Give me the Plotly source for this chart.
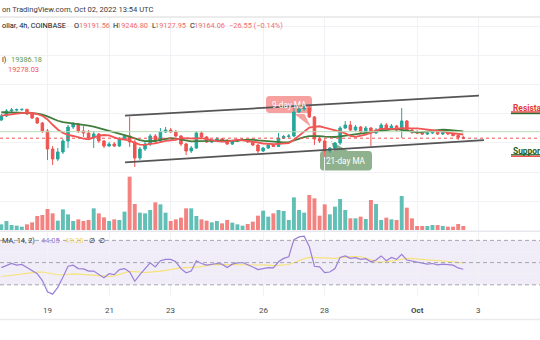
import pandas as pd
import plotly.graph_objects as go

W, H = 540, 340

# ---------------- data (BTC/USD, COINBASE, 4h) ----------------
first_bar = "2022-09-17 12:00"
n_bars = 91
opens = [19786, 19923, 20094, 20128, 20140, 20150, 19991, 19854, 19683, 19410,
         18794, 18452, 18692, 19068, 19547, 19649, 19410, 19341, 19170, 19307,
         19068, 18897, 18965, 18897, 19136, 19239, 19034, 18486, 18794, 18965,
         19239, 19068, 19376, 19444, 19376, 19239, 18965, 18726, 18828, 19341,
         19205, 19034, 19102, 19136, 19068, 18965, 19068, 19102, 19119, 19034,
         18931, 18726, 18828, 18931, 18880, 19170, 19222, 19239, 20060, 20162,
         20196, 19889, 19136, 19068, 18726, 18828, 18999, 19512, 19615, 19444,
         19547, 19376, 19512, 19341, 19444, 19615, 19478, 19581, 19444, 19752,
         19444, 19376, 19341, 19307, 19341, 19376, 19307, 19359, 19307, 19256,
         19191.56]
highs = [19991, 20162, 20196, 20180, 20175, 20170, 20025, 19889, 19718, 19478,
         18897, 18828, 19136, 19615, 19718, 19683, 19581, 19444, 19410, 19341,
         19102, 19034, 19034, 19205, 19307, 19899, 19102, 18863, 19034, 19307,
         19307, 19512, 19547, 19512, 19444, 19273, 18999, 18897, 19410, 19410,
         19239, 19136, 19205, 19170, 19136, 19102, 19136, 19170, 19136, 19068,
         18965, 18863, 18965, 18965, 19341, 19273, 19307, 20196, 20299, 20265,
         20265, 19923, 19205, 19136, 18863, 19034, 19581, 19752, 19752, 19615,
         19581, 19581, 19547, 19512, 19683, 19683, 19649, 19615, 20196, 19786,
         19478, 19444, 19410, 19376, 19410, 19410, 19376, 19390, 19341, 19290,
         19246.80]
lows = [19752, 19889, 20025, 20077, 20094, 19957, 19820, 19649, 19341, 18418,
        18247, 18384, 18623, 18828, 19478, 19341, 19205, 19136, 18828, 18999,
        18828, 18863, 18863, 18863, 19102, 18863, 18179, 18418, 18726, 18897,
        18999, 18999, 19341, 19341, 19205, 18897, 18589, 18657, 18794, 19170,
        18999, 18999, 19034, 19034, 18931, 18931, 19034, 19068, 18999, 18897,
        18657, 18692, 18794, 18863, 18863, 19136, 19170, 19205, 20025, 20094,
        19854, 18931, 18999, 18521, 18657, 18760, 18931, 19478, 19410, 19410,
        19341, 19341, 18897, 19307, 19410, 19444, 19444, 19410, 19170, 19410,
        19307, 19307, 19273, 19273, 19307, 19273, 19273, 19273, 19222, 19102,
        19127.95]
closes = [19923, 20094, 20128, 20140, 20150, 19991, 19854, 19683, 19410, 18794,
          18452, 18692, 19068, 19547, 19649, 19410, 19341, 19170, 19307, 19068,
          18897, 18965, 18897, 19136, 19239, 19034, 18486, 18794, 18965, 19239,
          19068, 19376, 19444, 19376, 19239, 18965, 18726, 18828, 19341, 19205,
          19034, 19102, 19136, 19068, 18965, 19068, 19102, 19119, 19034, 18931,
          18726, 18828, 18931, 18880, 19170, 19222, 19239, 20060, 20162, 20196,
          19889, 19136, 19068, 18726, 18828, 18999, 19512, 19615, 19444, 19547,
          19376, 19512, 19341, 19444, 19615, 19478, 19581, 19444, 19752, 19444,
          19376, 19341, 19307, 19341, 19376, 19307, 19359, 19307, 19256, 19190.61,
          19164.06]
volumes = [850, 1350, 750, 650, 500, 850, 1150, 2100, 2250, 3150,
           2500, 1400, 3100, 2350, 1350, 1600, 1350, 1500, 3250, 2500,
           1900, 1350, 1600, 1500, 2750, 8000, 3900, 2600, 2500, 3000,
           4150, 3850, 2600, 1350, 1600, 1850, 3250, 3250, 2100, 1600,
           1400, 1150, 1350, 1000, 1500, 1100, 850, 650, 900, 1250,
           2150, 2900, 2000, 2500, 3000, 2850, 1500, 4900, 3000, 2600,
           5250, 4750, 2150, 3850, 2350, 3500, 4650, 3000, 1750, 1750,
           2000, 1650, 4500, 3900, 1500, 1850, 1600, 1500, 5100, 3350,
           1750, 600, 600, 600, 750, 750, 600, 500, 500, 900,
           600]
rsi = [45.5, 47.7, 49.2, 47.7, 48.3, 45.5, 42.4, 40.0, 33.8, 23.7,
       21.6, 27.7, 36.9, 46.7, 47.7, 44.6, 44.3, 42.4, 42.4, 39.4,
       36.3, 40.0, 39.1, 43.7, 44.6, 41.5, 33.2, 39.1, 44.6, 49.8,
       46.1, 51.7, 52.9, 52.9, 50.7, 44.6, 40.9, 42.4, 51.7, 49.2,
       47.7, 48.6, 49.2, 48.6, 45.5, 48.6, 49.8, 50.1, 48.3, 46.1,
       43.7, 44.6, 45.5, 45.2, 50.7, 53.8, 55.3, 70.7, 73.1, 73.8,
       64.5, 46.7, 46.1, 40.9, 41.5, 44.6, 54.7, 56.0, 53.8, 54.4,
       52.9, 53.5, 50.7, 52.3, 56.0, 51.7, 54.7, 52.9, 57.5, 52.3,
       51.3, 50.7, 49.2, 48.6, 49.2, 48.0, 48.6, 48.3, 47.7, 45.2,
       44.05]
# warm-up history (bars before the visible window) for the moving averages
prior_closes = [20180, 20150, 20090, 20120, 20210, 20160, 20100, 20130, 20080, 20150,
                20110, 20128, 19980, 19900, 19870, 19920, 19960, 19950, 19990, 19954]
prior_rsi = [40, 38, 41, 37, 38.8, 36, 34, 33, 35, 36, 37, 36.7, 37]

channel_upper_t = ["2022-09-21 12:24", "2022-10-03 00:13"]
channel_upper_p = [19933, 20617]
channel_lower_t = ["2022-09-21 12:24", "2022-10-03 04:07"]
channel_lower_p = [18340, 19100]

day_ticks = ["2022-09-19", "2022-09-21", "2022-09-23", "2022-09-26",
             "2022-09-28", "2022-10-01", "2022-10-03"]
day_labels = ["19", "21", "23", "26", "28", "Oct", "3"]
price_grid = [17000, 18000, 19000, 20000, 21000, 22000, 23000]
rsi_grid = [20, 40, 60]
rsi_levels = [70, 50, 30]
ma21_last, ma9_last = 19386.18, 19278.03
rsi_last, rsi_ma_last = 44.05, 49.20

# ---------------- derived ----------------
times = pd.date_range(first_bar, periods=n_bars, freq="4h")
tx = times.strftime("%Y-%m-%d %H:%M").tolist()
all_c = pd.Series(prior_closes + closes)
ma9 = all_c.rolling(9).mean().iloc[len(prior_closes):].tolist()
ma21 = all_c.rolling(21).mean().iloc[len(prior_closes):].tolist()
rsi_ma = pd.Series(prior_rsi + rsi).rolling(14).mean().iloc[len(prior_rsi):].tolist()

TEAL = "#26a69a"
RED = "#ef5350"
up = [c >= o for o, c in zip(opens, closes)]
vol_colors = ["rgba(38,166,154,0.72)" if u else "rgba(239,83,80,0.72)" for u in up]

GRID = "#f0f2f6"
FONT = "Roboto"


def px(x):
    return x / W


def py(y):
    return 1 - y / H


fig = go.Figure()
fig.add_trace(go.Bar(x=tx, y=volumes, marker=dict(color=vol_colors, line=dict(width=0)),
                     width=11.0e6, xaxis="x", yaxis="y2", hoverinfo="skip"))
fig.add_trace(go.Candlestick(x=tx, open=opens, high=highs, low=lows, close=closes,
                             increasing=dict(line=dict(color=TEAL, width=1), fillcolor=TEAL),
                             decreasing=dict(line=dict(color=RED, width=1), fillcolor=RED),
                             whiskerwidth=0, xaxis="x", yaxis="y"))
fig.add_trace(go.Scatter(x=tx, y=ma21, mode="lines", line=dict(color="#3f7d3c", width=1.8),
                         xaxis="x", yaxis="y"))
fig.add_trace(go.Scatter(x=tx, y=ma9, mode="lines", line=dict(color="#f05656", width=1.8),
                         xaxis="x", yaxis="y"))
for t, p in ((channel_upper_t, channel_upper_p), (channel_lower_t, channel_lower_p)):
    fig.add_trace(go.Scatter(x=t, y=p, mode="lines", line=dict(color="#555555", width=1.8),
                             xaxis="x", yaxis="y"))
fig.add_trace(go.Scatter(x=tx, y=rsi_ma, mode="lines", line=dict(color="#f7e27a", width=1.2),
                         xaxis="x2", yaxis="y3"))
fig.add_trace(go.Scatter(x=tx, y=rsi, mode="lines", line=dict(color="#9a7fd6", width=1.2),
                         xaxis="x2", yaxis="y3"))

x_range = ["2022-09-17 10:59:12", "2022-10-04 23:46"]
main_dom = [py(230), py(17)]
rsi_dom = [py(296), py(232)]
common_x = dict(type="date", range=x_range, showticklabels=False, tickvals=day_ticks,
                showgrid=True, gridcolor=GRID, gridwidth=1, zeroline=False, showline=False,
                ticks="", fixedrange=True)
fig.update_layout(
    width=W, height=H, margin=dict(l=0, r=0, t=0, b=0),
    paper_bgcolor="white", plot_bgcolor="rgba(0,0,0,0)", showlegend=False,
    xaxis=dict(domain=[0, 1], anchor="y", rangeslider=dict(visible=False), **common_x),
    xaxis2=dict(domain=[0, 1], anchor="y3", matches="x", **common_x),
    yaxis=dict(domain=main_dom, range=[16024, 23308.6], tickvals=price_grid, showgrid=True,
               gridcolor=GRID, showticklabels=False, zeroline=False, ticks=""),
    yaxis2=dict(domain=main_dom, overlaying="y", range=[0, 31950], visible=False),
    yaxis3=dict(domain=rsi_dom, anchor="x2", range=[19.94, 77.54], tickvals=rsi_grid,
                showgrid=True, gridcolor=GRID, showticklabels=False, zeroline=False, ticks=""),
    font=dict(family=FONT, color="#131722"),
)

shapes = []
# separators
for yy, col in ((17, "#e6e6e6"), (231.3, "#e6e8ee"), (319.5, "#e9ebef")):
    shapes.append(dict(type="line", xref="paper", yref="paper", x0=0, x1=1, y0=py(yy), y1=py(yy),
                       line=dict(color=col, width=1.5)))
# RSI band
shapes.append(dict(type="rect", xref="x2 domain", yref="y3", x0=0, x1=1, y0=rsi_levels[2],
                   y1=rsi_levels[0], fillcolor="rgba(126,87,194,0.11)", line=dict(width=0),
                   layer="below"))
for lv in rsi_levels:
    shapes.append(dict(type="line", xref="x2 domain", yref="y3", x0=0, x1=1, y0=lv, y1=lv,
                       line=dict(color="#a3a6af", width=1, dash="4px,3px")))
# price lines
shapes.append(dict(type="line", xref="x domain", yref="y", x0=0, x1=1, y0=ma21_last, y1=ma21_last,
                   line=dict(color="#b8dcb6", width=1)))
shapes.append(dict(type="line", xref="x domain", yref="y", x0=0, x1=1, y0=closes[-1], y1=closes[-1],
                   line=dict(color="#ef5350", width=1, dash="dot")))


def box_path(x0, y0, x1, y1, r, ptr_side, ptr):
    ba, bb, ax, ay = ptr
    pts = [("M", [(x0 + r, y0)])]
    if ptr_side == "top":
        pts += [("L", [(ba, y0)]), ("L", [(ax, ay)]), ("L", [(bb, y0)])]
    pts += [("L", [(x1 - r, y0)]), ("Q", [(x1, y0), (x1, y0 + r)]),
            ("L", [(x1, y1 - r)]), ("Q", [(x1, y1), (x1 - r, y1)])]
    if ptr_side == "bottom":
        pts += [("L", [(bb, y1)]), ("L", [(ax, ay)]), ("L", [(ba, y1)])]
    pts += [("L", [(x0 + r, y1)]), ("Q", [(x0, y1), (x0, y1 - r)]),
            ("L", [(x0, y0 + r)]), ("Q", [(x0, y0), (x0 + r, y0)])]
    s = ""
    for cmd, ps in pts:
        s += cmd + " " + " ".join(f"{px(a):.5f},{py(b):.5f}" for a, b in ps) + " "
    return s + "Z"


shapes.append(dict(type="path", xref="paper", yref="paper", layer="below",
                   path=box_path(266, 96, 312, 113, 3.5, "bottom", (293, 304, 311, 127)),
                   fillcolor="rgba(239,83,80,0.55)", line=dict(width=0)))
shapes.append(dict(type="path", xref="paper", yref="paper", layer="below",
                   path=box_path(320, 151, 372, 170.5, 3.5, "top", (334, 348, 331, 141)),
                   fillcolor="rgba(90,140,88,0.68)", line=dict(width=0)))
# support / resistance label underlines
for yy, col in ((112.0, "#e53935"), (113.5, "#2e6b2e"), (154.8, "#2e6b2e"), (156.3, "#ef5350")):
    shapes.append(dict(type="line", xref="paper", yref="paper", x0=px(511), x1=1,
                       y0=py(yy), y1=py(yy), line=dict(color=col, width=1.4)))
fig.update_layout(shapes=shapes)

ann = []


def text(x, y, s, size=7.5, color="#131722", anchor="left", bold=False, xref="paper"):
    ann.append(dict(x=px(x) if xref == "paper" else x, y=py(y), xref=xref, yref="paper",
                    text=f"<b>{s}</b>" if bold else s, showarrow=False, xanchor=anchor,
                    yanchor="middle", font=dict(size=size, color=color, family=FONT)))


text(0, 9, "on TradingView.com, Oct 02, 2022 13:54 UTC", size=7.6, color="#3b3b3b")
text(0, 26, "ollar, 4h, COINBASE", size=7.4)
lc = "#f26c6c"
for lab, xl, val, xv in (("O", 71.5, opens[-1], 76.6), ("H", 110.6, highs[-1], 115.2),
                         ("L", 149.8, lows[-1], 153.4), ("C", 187.6, closes[-1], 192.4)):
    text(xl, 26, lab, size=7.4)
    text(xv, 26, f"{val:.2f}", size=7.4, color=lc)
chg = closes[-1] - closes[-2]
text(226.7, 26, f"\u2212{abs(chg):.2f} (\u2212{abs(chg) / closes[-2] * 100:.2f}%)", size=7.4, color=lc)
text(0, 59, "l)", size=7.4)
text(9.3, 59, f"{ma21_last:.2f}", size=7.4, color="#5a9a55")
text(5.7, 69.5, f"{ma9_last:.2f}", size=7.4, color="#f05656")
text(0, 240, "MA, 14, 2)", size=7.4, color="#3b3b3b")
text(39, 240, f"{rsi_last:.2f}", size=7.4, color="#9a7fd6")
text(63, 240, f"{rsi_ma_last:.2f}", size=7.4, color="#f2d95c")
text(86.5, 240, "\u2205", size=7.4, color="#222")
text(96.5, 240, "\u2205", size=7.4, color="#222")
for t, lab in zip(day_ticks, day_labels):
    text(t, 310.3, lab, size=8, color="#4a4a4a", anchor="center", bold=(lab == "Oct"), xref="x")
text(510.5, 107.5, "Resista", size=8.4, color="#e53935", bold=True)
text(510.5, 150.5, "Suppor", size=8.4, color="#1f5f22", bold=True)
text(289, 104.5, "9-day MA", size=8.2, color="white", anchor="center")
text(346, 161, "21-day MA", size=8.2, color="white", anchor="center")
fig.update_layout(annotations=ann)

fig.write_html("out.html")
